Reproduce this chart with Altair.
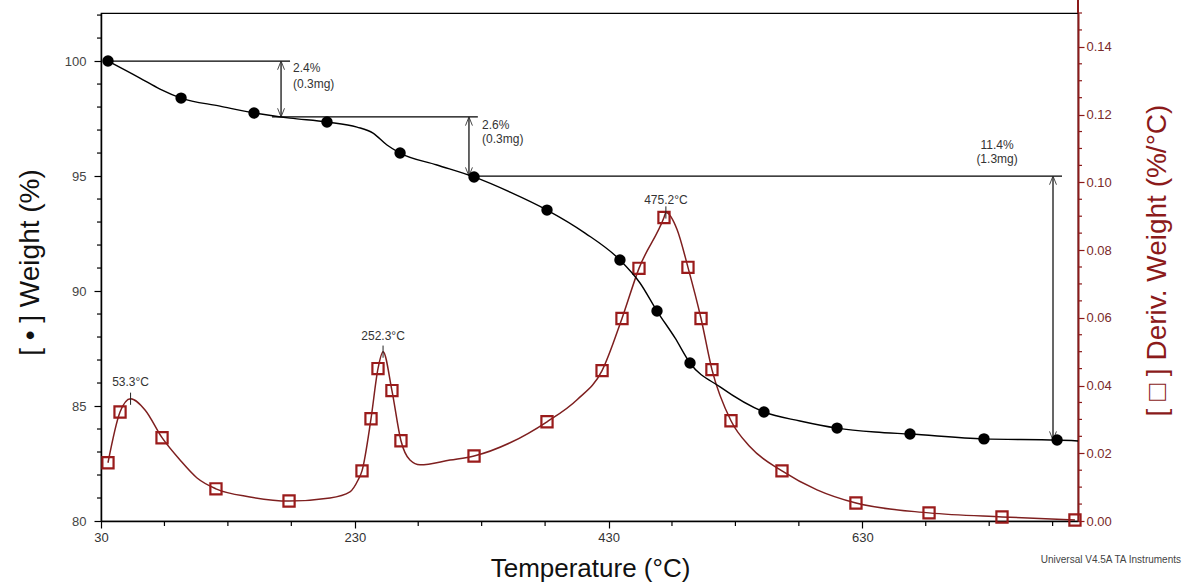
import altair as alt
import pandas as pd

# ---------------- data ----------------
# Weight (%) curve
w_line_T = [35.5, 60.7, 76.5, 93.1, 123.8, 150.6, 179.0, 208.1, 231.8, 244.4, 255.4, 265.7,
            294.8, 324.0, 352.4, 381.5, 411.5, 439.0, 454.8, 468.2, 482.4, 494.2, 517.9,
            552.5, 580.9, 610.1, 640.0, 667.6, 725.9, 783.5, 800.0]
w_line_W = [100.0, 99.26, 98.78, 98.39, 98.04, 97.74, 97.52, 97.35, 97.13, 96.87, 96.35, 96.0,
            95.48, 94.96, 94.30, 93.52, 92.52, 91.35, 90.35, 89.13, 87.96, 86.87, 85.83,
            84.74, 84.35, 84.04, 83.87, 83.78, 83.57, 83.52, 83.48]
# Weight markers (filled circles)
w_pt_T = [35.5, 93.1, 150.6, 208.1, 265.7, 324.0, 381.5, 439.0, 468.2, 494.2, 552.5,
          610.1, 667.6, 725.9, 783.5]
w_pt_W = [100.0, 98.39, 97.74, 97.35, 96.0, 94.96, 93.52, 91.35, 89.13, 86.87, 84.74,
          84.04, 83.78, 83.57, 83.52]

# Derivative weight (%/°C) curve
d_line_T = [35.5, 45.0, 53.3, 64.7, 78.1, 92.3, 105.7, 120.6, 147.4, 178.2, 210.5, 226.2,
            232.6, 235.7, 242.8, 248.3, 252.3, 259.3, 266.4, 273.5, 281.4, 305.1, 324.0,
            352.4, 381.5, 405.2, 424.9, 440.6, 454.0, 473.7, 475.2, 484.0, 492.6, 502.9,
            511.5, 526.5, 541.5, 566.7, 594.3, 625.0, 682.6, 740.1, 797.6]
d_line_D = [0.0172, 0.0322, 0.0361, 0.0328, 0.0246, 0.0180, 0.0127, 0.0095, 0.0071, 0.0059,
            0.0068, 0.0086, 0.0121, 0.0148, 0.0302, 0.0450, 0.0500, 0.0385, 0.0237, 0.0180,
            0.0166, 0.0180, 0.0192, 0.0231, 0.0293, 0.0358, 0.0444, 0.0598, 0.0746, 0.0896,
            0.0911, 0.0861, 0.0749, 0.0598, 0.0447, 0.0296, 0.0219, 0.0148, 0.0092, 0.0053,
            0.0024, 0.0012, 0.0003]
# Derivative markers (open squares)
d_pt_T = [35.5, 45.0, 78.1, 120.6, 178.2, 235.7, 242.8, 248.3, 259.3, 266.4, 324.0, 381.5,
          424.9, 440.6, 454.0, 473.7, 492.6, 502.9, 511.5, 526.5, 566.7, 625.0, 682.6,
          740.1, 797.6]
d_pt_D = [0.0172, 0.0322, 0.0246, 0.0095, 0.0059, 0.0148, 0.0302, 0.0450, 0.0385, 0.0237,
          0.0192, 0.0293, 0.0444, 0.0598, 0.0746, 0.0896, 0.0749, 0.0598, 0.0447, 0.0296,
          0.0148, 0.0053, 0.0024, 0.0012, 0.0003]

# Peak annotations
peak_T = [53.3, 252.3, 475.2]
peak_D = [0.0361, 0.0500, 0.0911]
peak_label = ["53.3°C", "252.3°C", "475.2°C"]
peak_label_D = [0.0411, 0.0547, 0.0947]

# Step-change annotations (horizontal reference lines)
h_T1 = [35.5, 164.8, 320.8]
h_T2 = [179.0, 327.0, 787.4]
h_W = [100.0, 97.57, 95.0]
# vertical double arrows
arr_T = [171.9, 320.0, 780.3]
arr_top = [100.0, 97.57, 95.0]
arr_bot = [97.57, 95.0, 83.52]
# step texts
step_txt = ["2.4%", "(0.3mg)", "2.6%", "(0.3mg)", "11.4%", "(1.3mg)"]
step_T = [181.3, 181.3, 330.3, 330.3, 736.2, 736.2]
step_W = [99.70, 99.02, 97.22, 96.61, 96.35, 95.72]
step_align = ["left", "left", "left", "left", "center", "center"]

# Axis tick values
x_major = [30, 230, 430, 630]
x_minor = [v for v in range(30, 801, 50) if v not in x_major]
w_major = [80, 85, 90, 95, 100]
w_minor = [v for v in range(80, 103) if v not in w_major]
d_major = [0.0, 0.02, 0.04, 0.06, 0.08, 0.10, 0.12, 0.14]
d_minor = [round(k * 0.005, 3) for k in range(0, 31) if k % 4 != 0]

MAROON = "#8B1A1A"
LINE_MAROON = "#7E1F1F"
FONT = "Liberation Sans"
W_PX = 977
H_PX = 508

# ---------------- data frames ----------------
wl = pd.DataFrame({"T": w_line_T, "W": w_line_W})
wp = pd.DataFrame({"T": w_pt_T, "W": w_pt_W})
dl = pd.DataFrame({"T": d_line_T, "D": d_line_D})
dp = pd.DataFrame({"T": d_pt_T, "D": d_pt_D})
pk = pd.DataFrame({"T": peak_T, "D": peak_D, "lab": peak_label, "LD": peak_label_D})
pk["D1"] = pk["D"] - 0.0018
pk["D2"] = pk["D"] + 0.0018
hl = pd.DataFrame({"T1": h_T1, "T2": h_T2, "W": h_W})
ar = pd.DataFrame({"T": arr_T, "top": arr_top, "bot": arr_bot})
st = pd.DataFrame({"txt": step_txt, "T": step_T, "W": step_W, "al": step_align})
xmin_df = pd.DataFrame({"T": x_minor})
wmin_df = pd.DataFrame({"W": w_minor})
dmin_df = pd.DataFrame({"D": d_minor})

xscale = alt.Scale(domain=[30, 800], nice=False, zero=False)
wscale = alt.Scale(domain=[80, 102.09], nice=False, zero=False)
dscale = alt.Scale(domain=[0, 0.15], nice=False, zero=False)

x_axis = alt.Axis(
    values=x_major, format="d",
    labelOverlap=False, labelFlush=False, grid=False,
    domainColor="black", domainWidth=1.5, tickColor="black", tickWidth=1.2, tickSize=7,
    labelFont=FONT, labelFontSize=13, labelColor="#333", labelPadding=3,
    title="Temperature (°C)", titleFont=FONT, titleFontSize=26, titleFontWeight="normal",
    titleColor="#111", titleX=489, titleY=47, titleAlign="center", titleBaseline="middle",
)
w_axis = alt.Axis(
    orient="left", values=w_major, format="d",
    labelOverlap=False, labelFlush=False, grid=False,
    domainColor="black", domainWidth=1.5, tickColor="black", tickWidth=1.2, tickSize=7,
    labelFont=FONT, labelFontSize=13, labelColor="#444", labelPadding=8,
    title="[ • ] Weight (%)", titleFont=FONT, titleFontSize=28, titleFontWeight="normal",
    titleColor="#111", titleX=-71, titleY=249, titleAngle=270,
    titleAlign="center", titleBaseline="middle",
)
d_axis = alt.Axis(
    orient="right", values=d_major, format=".2f",
    labelOverlap=False, labelFlush=False, grid=False,
    domainColor=MAROON, domainWidth=2, tickColor=MAROON, tickWidth=1.2, tickSize=6,
    labelFont=FONT, labelFontSize=13, labelColor="#7A2A2A", labelPadding=2,
    title="[ □ ] Deriv. Weight (%/°C)", titleFont=FONT, titleFontSize=28,
    titleFontWeight="normal", titleColor=MAROON, titleX=79, titleY=247, titleAngle=270,
    titleAlign="center", titleBaseline="middle",
)


def X(field):
    return alt.X(field, type="quantitative", scale=xscale, axis=x_axis)


# ---------------- derivative layers ----------------
d_line = alt.Chart(dl).mark_line(color=LINE_MAROON, strokeWidth=1.5, interpolate="monotone").encode(
    x=X("T"),
    y=alt.Y("D:Q", scale=dscale, axis=d_axis),
)
d_pts = alt.Chart(dp).mark_point(shape="square", filled=False, color="#9A1B1B",
                                 size=125, strokeWidth=2.2, opacity=1).encode(
    x=X("T"),
    y=alt.Y("D:Q", scale=dscale, axis=None),
)
pk_tick = alt.Chart(pk).mark_rule(color="#222", strokeWidth=1).encode(
    x=X("T"),
    y=alt.Y("D1:Q", scale=dscale, axis=None),
    y2="D2:Q",
)
pk_text = alt.Chart(pk).mark_text(font=FONT, fontSize=12, color="#333",
                                  align="center", baseline="middle").encode(
    x=X("T"),
    y=alt.Y("LD:Q", scale=dscale, axis=None),
    text="lab:N",
)
d_minor_ticks = alt.Chart(dmin_df).mark_rule(color=MAROON, strokeWidth=1.2).encode(
    y=alt.Y("D:Q", scale=dscale, axis=None),
    x=alt.value(W_PX), x2=alt.value(W_PX + 4),
)
d_axis_ext = alt.Chart(pd.DataFrame({"k": [0]})).mark_rule(color=MAROON, strokeWidth=2).encode(
    x=alt.value(W_PX), y=alt.value(-13), y2=alt.value(0),
)

# ---------------- weight layers ----------------
w_line = alt.Chart(wl).mark_line(color="black", strokeWidth=1.4, interpolate="monotone").encode(
    x=X("T"),
    y=alt.Y("W:Q", scale=wscale, axis=w_axis),
)
w_pts = alt.Chart(wp).mark_point(shape="circle", filled=True, color="black",
                                 size=130, opacity=1).encode(
    x=X("T"),
    y=alt.Y("W:Q", scale=wscale, axis=None),
)
h_lines = alt.Chart(hl).mark_rule(color="black", strokeWidth=1.2).encode(
    x=X("T1"),
    x2="T2:Q",
    y=alt.Y("W:Q", scale=wscale, axis=None),
)
a_lines = alt.Chart(ar).mark_rule(color="black", strokeWidth=1.2).encode(
    x=X("T"),
    y=alt.Y("top:Q", scale=wscale, axis=None),
    y2="bot:Q",
)
a_up = alt.Chart(ar).mark_point(shape="M-0.4,1L0,0L0.4,1", filled=False, color="#333",
                                size=300, strokeWidth=0.9, opacity=1).encode(
    x=X("T"),
    y=alt.Y("top:Q", scale=wscale, axis=None),
)
a_dn = alt.Chart(ar).mark_point(shape="M-0.4,-1L0,0L0.4,-1", filled=False, color="#333",
                                size=300, strokeWidth=0.9, opacity=1).encode(
    x=X("T"),
    y=alt.Y("bot:Q", scale=wscale, axis=None),
)
st_left = alt.Chart(st[st["al"] == "left"]).mark_text(
    font=FONT, fontSize=12, color="#333", align="left", baseline="middle").encode(
    x=X("T"),
    y=alt.Y("W:Q", scale=wscale, axis=None),
    text="txt:N",
)
st_center = alt.Chart(st[st["al"] == "center"]).mark_text(
    font=FONT, fontSize=12, color="#333", align="center", baseline="middle").encode(
    x=X("T"),
    y=alt.Y("W:Q", scale=wscale, axis=None),
    text="txt:N",
)
w_minor_ticks = alt.Chart(wmin_df).mark_rule(color="black", strokeWidth=1.2).encode(
    y=alt.Y("W:Q", scale=wscale, axis=None),
    x=alt.value(-4), x2=alt.value(0),
)
x_minor_ticks = alt.Chart(xmin_df).mark_rule(color="black", strokeWidth=1.2).encode(
    x=X("T"),
    y=alt.value(H_PX), y2=alt.value(H_PX + 5),
)
credit = alt.Chart(pd.DataFrame({"t": ["Universal V4.5A TA Instruments"]})).mark_text(
    font=FONT, fontSize=10, color="#444", align="right", baseline="middle").encode(
    x=alt.value(1080), y=alt.value(547), text="t:N")

chart = alt.layer(
    d_line, d_pts, pk_tick, pk_text, d_minor_ticks, d_axis_ext,
    h_lines, a_lines, a_up, a_dn, st_left, st_center, w_line, w_pts,
    w_minor_ticks, x_minor_ticks, credit,
).resolve_scale(y="independent").properties(
    width=W_PX, height=H_PX,
    padding={"left": 101, "top": 13, "right": 106, "bottom": 62},
    autosize=alt.AutoSizeParams(type="none"),
).configure_view(stroke="black", strokeWidth=1.2)

chart.save("out.html", embed_options={"renderer": "svg", "actions": False})
